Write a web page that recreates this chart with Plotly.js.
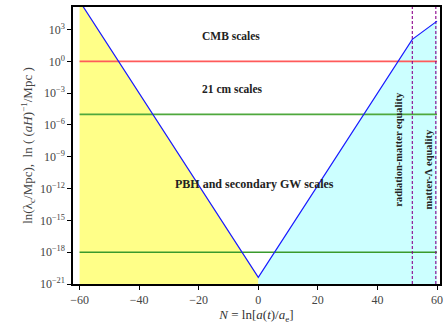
<!DOCTYPE html>
<html>
<head>
<meta charset="utf-8">
<script src="https://cdn.plot.ly/plotly-3.0.1.min.js"></script>
<style>html,body{margin:0;padding:0;background:#fff;}#chart{width:444px;height:326px;}</style>
</head>
<body>
<div id="chart"></div>
<script>
// Horizon scale (aH)^-1 vs e-folds N
const N = [-60, 0, 51.7, 60];
const horizon = [4.9e5, 4.3e-21, 1.2e2, 6.3e3];

// Characteristic scales (horizontal lines)
const scaleNames = ["CMB", "21 cm", "PBH"];
const scaleValues = [1e0, 1e-5, 1e-18];
const scaleColors = ["#ff5a5a", "#4fa83d", "#3a9a2c"];
const scaleSpan = [-60, 60];

// Equality epochs (vertical dashed lines)
const eqNames = ["radiation-matter equality", "matter-\u039b equality"];
const eqN = [51.7, 59.6];

// Region labels
const labelText = ["<b>CMB scales</b>", "<b>21 cm scales</b>", "<b>PBH and secondary GW scales</b>"];
const labelN = [-9, -8.5, -1.3];
const labelY = [2.4, -2.62, -11.6];

const eqLabelN = [47, 57];
const eqLabelY = [-8.3, -10.2];

// Y tick exponents
const yExp = [3, 0, -3, -6, -9, -12, -15, -18, -21];
const xTicks = [-60, -40, -20, 0, 20, 40, 60];

const font = "Liberation Serif, DejaVu Serif, serif";

const traces = [];
traces.push({x: N.slice(0, 2), y: horizon.slice(0, 2), type: "scatter", mode: "none",
  fill: "tozeroy", fillcolor: "#ffff88", hoverinfo: "skip", showlegend: false});
traces.push({x: N.slice(1), y: horizon.slice(1), type: "scatter", mode: "none",
  fill: "tozeroy", fillcolor: "#ccffff", hoverinfo: "skip", showlegend: false});
scaleValues.forEach((v, i) => {
  traces.push({x: scaleSpan, y: [v, v], type: "scatter", mode: "lines",
    line: {color: scaleColors[i], width: 1.6}, showlegend: false, name: scaleNames[i]});
});
eqN.forEach((n, i) => {
  traces.push({x: [n, n], y: [1e-21, Math.pow(10, 5.13)], type: "scatter", mode: "lines",
    line: {color: "#8b008b", width: 1.1, dash: "3px,2px"}, showlegend: false, name: eqNames[i]});
});
traces.push({x: N, y: horizon, type: "scatter", mode: "lines",
  line: {color: "#1a1aff", width: 1.2}, showlegend: false});

const annotations = [];
labelText.forEach((t, i) => {
  annotations.push({x: labelN[i], y: labelY[i], xref: "x", yref: "y", text: t, showarrow: false,
    font: {family: font, size: i === 2 ? 12 : 11.5, color: "#222"}, xanchor: "center", yanchor: "middle"});
});
eqNames.forEach((t, i) => {
  annotations.push({x: eqLabelN[i], y: eqLabelY[i], xref: "x", yref: "y", text: "<b>" + t + "</b>",
    showarrow: false, textangle: -90, font: {family: font, size: 10.5, color: "#222"},
    xanchor: "center", yanchor: "middle"});
});

const layout = {
  width: 444, height: 326,
  margin: {l: 73, r: 4, t: 7, b: 42},
  paper_bgcolor: "#fff", plot_bgcolor: "#fff",
  font: {family: font, color: "#333", size: 12},
  xaxis: {
    range: [-62.2, 61], tickvals: xTicks, ticktext: xTicks.map(v => v < 0 ? "\u2212" + Math.abs(v) : String(v)),
    ticks: "outside", ticklen: 4, tickwidth: 1, tickcolor: "#000",
    showline: true, linecolor: "#000", linewidth: 1.6, mirror: true,
    showgrid: false, zeroline: false,
    tickfont: {family: font, size: 12, color: "#444"},
    title: {text: "<i>N</i> = ln[<i>a</i>(<i>t</i>)/<i>a</i><sub>e</sub>]", font: {family: font, size: 13, color: "#333"}, standoff: 2}
  },
  yaxis: {
    type: "log", range: [-21, 5.13],
    tickvals: yExp.map(e => Math.pow(10, e)),
    ticktext: yExp.map(e => "10<sup>" + (e < 0 ? "\u2212" + Math.abs(e) : e) + "</sup>"),
    ticks: "outside", ticklen: 4, tickwidth: 1, tickcolor: "#000",
    showline: true, linecolor: "#000", linewidth: 1.6, mirror: true,
    showgrid: false, zeroline: false,
    tickfont: {family: font, size: 12, color: "#444"},
    title: {text: "ln(\u03bb<sub>c</sub>/Mpc),  ln ( (<i>aH</i>)<sup>\u22121</sup>/Mpc )", font: {family: font, size: 13, color: "#444"}, standoff: 4}
  },
  annotations: annotations
};

Plotly.newPlot("chart", traces, layout, {staticPlot: true, displayModeBar: false});
</script>
</body>
</html>
